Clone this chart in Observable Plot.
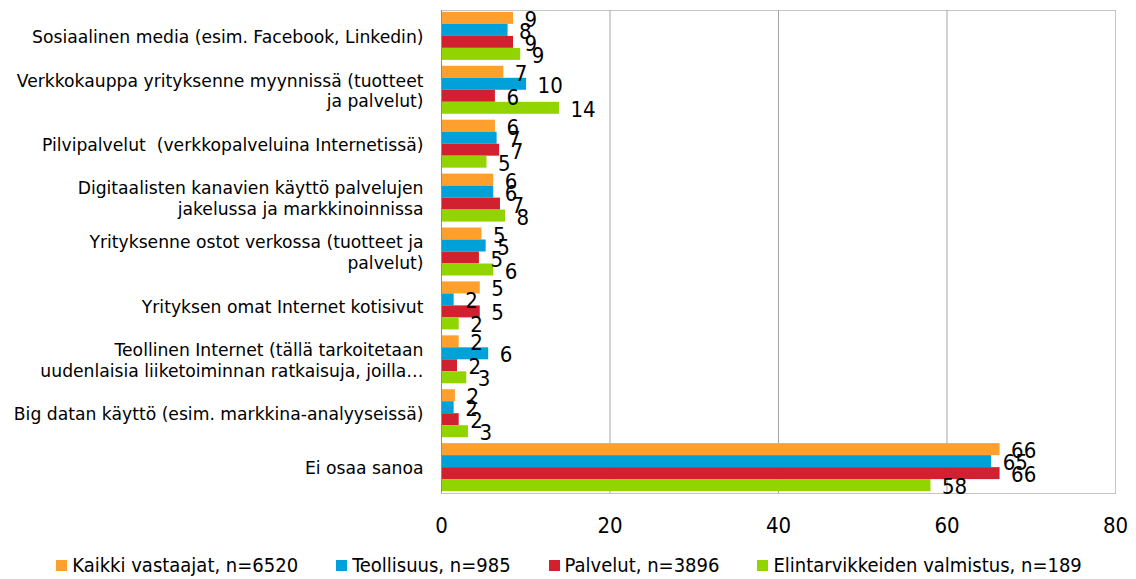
<!DOCTYPE html>
<html><head><meta charset="utf-8">
<script src="https://cdn.jsdelivr.net/npm/d3@7"></script>
<script src="https://cdn.jsdelivr.net/npm/@observablehq/plot@0.6"></script>
<style>
body{margin:0;background:#fff;}
#chart{width:1136px;}
.legend{display:flex;justify-content:center;gap:38px;font-family:"DejaVu Sans Condensed";font-size:20px;height:34px;align-items:center;color:#000;padding-left:2px}
.legend .item{display:flex;align-items:center}
.legend .sw{display:inline-block;width:11px;height:11px;margin-right:5px}
</style></head><body><div id="chart"></div>
<script>
const categories = [
  "Sosiaalinen media (esim. Facebook, Linkedin)",
  "Verkkokauppa yrityksenne myynnissä (tuotteet\nja palvelut)",
  "Pilvipalvelut  (verkkopalveluina Internetissä)",
  "Digitaalisten kanavien käyttö palvelujen\njakelussa ja markkinoinnissa",
  "Yrityksenne ostot verkossa (tuotteet ja\npalvelut)",
  "Yrityksen omat Internet kotisivut",
  "Teollinen Internet (tällä tarkoitetaan\nuudenlaisia liiketoiminnan ratkaisuja, joilla…",
  "Big datan käyttö (esim. markkina-analyyseissä)",
  "Ei osaa sanoa"
];
const seriesNames = ["Kaikki vastaajat, n=6520", "Teollisuus, n=985", "Palvelut, n=3896", "Elintarvikkeiden valmistus, n=189"];
const kaikki      = [8.55, 7.4, 6.4, 6.2, 4.8, 4.6, 2.1, 1.65, 66.3];
const teollisuus  = [7.9, 10.1, 6.6, 6.2, 5.3, 1.5, 5.6, 1.5, 65.3];
const palvelut    = [8.55, 6.4, 6.9, 7.0, 4.5, 4.6, 1.9, 2.1, 66.3];
const elintarvike = [9.4, 14.0, 5.4, 7.6, 6.2, 2.1, 3.0, 3.2, 58.1];
const xTicks = [0, 20, 40, 60, 80];

const seriesValues = [kaikki, teollisuus, palvelut, elintarvike];
const colors = ["#FF9F2E", "#00A0D9", "#D12130", "#92D400"];

const width = 1136, height = 548, marginTop = 10, marginBottom = 55, marginLeft = 441, marginRight = 21;
const padIn = 0.11, padOut = 0.035;
const bw = d3.scaleBand().domain(categories).range([marginTop, height - marginBottom])
  .paddingInner(padIn).paddingOuter(padOut).bandwidth();
const slot = bw / 4;
const font = "DejaVu Sans Condensed";

const marks = [
  Plot.frame({stroke: "#c4c4c4"}),
  Plot.ruleX(xTicks.slice(1, -1), {stroke: "#a6a6a6"}),
];
seriesValues.forEach((vals, i) => {
  const rows = categories.map((c, j) => ({cat: c, v: vals[j]}));
  marks.push(Plot.barX(rows, {y: "cat", x: "v", fill: colors[i], insetTop: i * slot, insetBottom: (3 - i) * slot}));
});
seriesValues.forEach((vals, i) => {
  const rows = categories.map((c, j) => ({cat: c, v: vals[j]}));
  marks.push(Plot.text(rows, {y: "cat", x: "v", text: d => String(Math.round(d.v)), dx: 11, dy: (i - 1.5) * slot + 1.5,
    textAnchor: "start", fontSize: 22, fontFamily: font, fill: "#000"}));
});
marks.push(Plot.ruleX([0], {stroke: "#8c8c8c"}));
marks.push(Plot.text(categories, {y: d => d, text: d => d, frameAnchor: "left", dx: -18, textAnchor: "end",
  lineHeight: 1.2, fontSize: 17.2, fontFamily: "DejaVu Sans", fill: "#000", ariaLabel: "category"}));
marks.push(Plot.axisX({ticks: xTicks, tickSize: 0, tickPadding: 24, fontSize: 22, fontFamily: font, fill: "#000",
  tickFormat: d => String(d), label: null}));

const plot = Plot.plot({
  width, height, marginTop, marginBottom, marginLeft, marginRight,
  style: {background: "#fff", color: "#000", overflow: "visible"},
  x: {domain: [0, 80], axis: null, label: null},
  y: {domain: categories, paddingInner: padIn, paddingOuter: padOut, round: false, axis: null, label: null},
  marks
});
const chart = document.getElementById("chart");
chart.appendChild(plot);

// center multi-line category labels relative to each other, keeping the block right-aligned
const g = plot.querySelector('g[aria-label="category"]');
if (g) {
  for (const t of g.querySelectorAll("text")) {
    if (t.querySelectorAll("tspan").length > 1) {
      const w = t.getBBox().width;
      t.setAttribute("text-anchor", "middle");
      t.setAttribute("transform", (t.getAttribute("transform") || "") + ` translate(${-w / 2},0)`);
    }
    t.style.whiteSpace = "pre";
  }
}

const legend = document.createElement("div");
legend.className = "legend";
seriesNames.forEach((name, i) => {
  const item = document.createElement("div");
  item.className = "item";
  const sw = document.createElement("span");
  sw.className = "sw";
  sw.style.background = colors[i];
  const label = document.createElement("span");
  label.textContent = name;
  item.appendChild(sw);
  item.appendChild(label);
  legend.appendChild(item);
});
chart.appendChild(legend);
</script>
</body></html>
